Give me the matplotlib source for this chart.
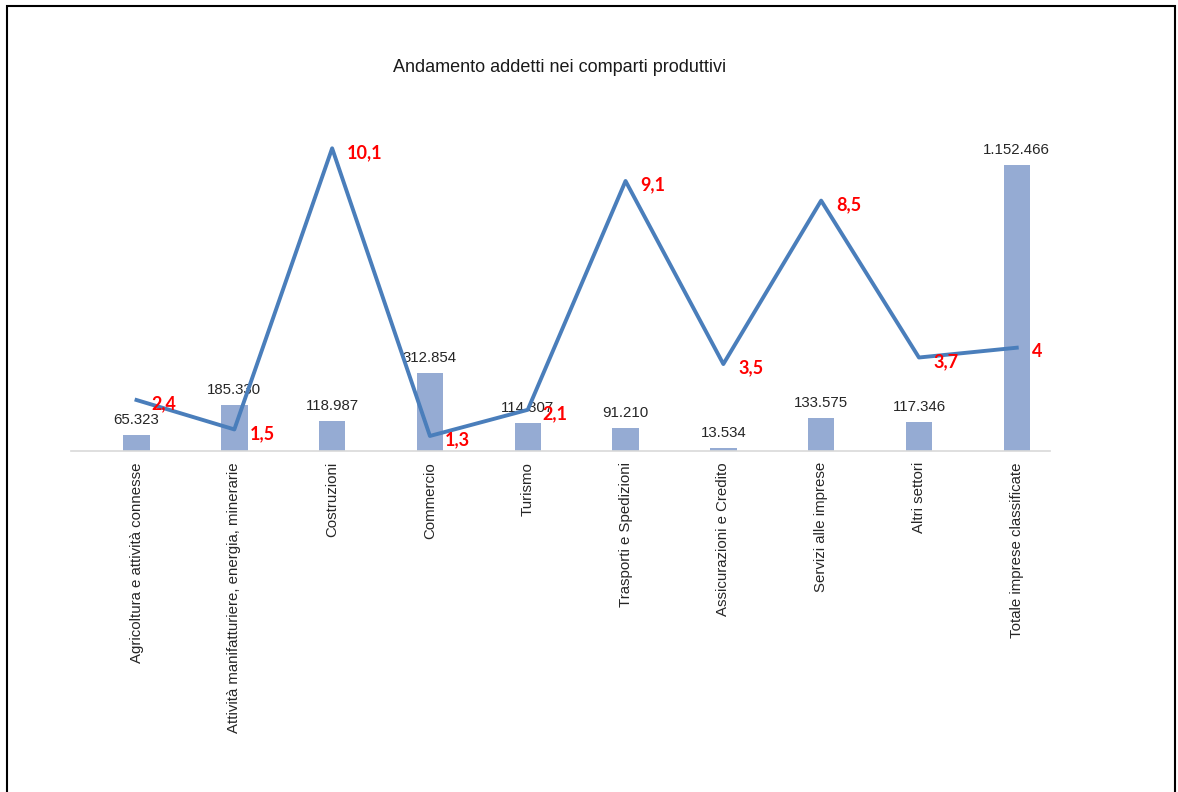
import matplotlib.pyplot as plt
from matplotlib.patches import Rectangle

plt.rcParams['font.family'] = ['Liberation Sans', 'DejaVu Sans']

# dati
categorie = ["Agricoltura e attività connesse",
             "Attività manifatturiere, energia, minerarie",
             "Costruzioni", "Commercio", "Turismo",
             "Trasporti e Spedizioni", "Assicurazioni e Credito",
             "Servizi alle imprese", "Altri settori",
             "Totale imprese classificate"]
addetti = [65323, 185330, 118987, 312854, 114307, 91210, 13534, 133575, 117346, 1152466]
variazione = [2.4, 1.5, 10.1, 1.3, 2.1, 9.1, 3.5, 8.5, 3.7, 4.0]

W, H = 1178, 792
fig = plt.figure(figsize=(W / 100, H / 100), dpi=100)

# area del grafico in pixel
x0, x1 = 71, 1050
y_base, y_top = 451, 130
ax = fig.add_axes([x0 / W, 1 - y_base / H, (x1 - x0) / W, (y_base - y_top) / H])

pos = list(range(len(categorie)))
ax.bar(pos, addetti, width=0.27, color='#95abd3', zorder=2)
ax.set_xlim(-0.67, len(categorie) - 1 + 0.34)
ax.set_ylim(0, 1293600)

for i, v in enumerate(addetti):
    etichetta = f"{v:,}".replace(",", ".")
    ax.annotate(etichetta, (i, v), xytext=(0, 8), textcoords='offset pixels',
                ha='center', va='bottom', fontsize=10.8, color='#262626')

ax.set_xticks(pos)
ax.set_xticklabels(categorie, rotation=90, fontsize=10.8, color='#262626', va='top')
ax.tick_params(axis='x', length=0, pad=8)
ax.set_yticks([])
for s in ['top', 'right', 'left']:
    ax.spines[s].set_visible(False)
ax.spines['bottom'].set_color('#d9d9d9')
ax.spines['bottom'].set_linewidth(1.2)
ax.patch.set_alpha(0)

# asse secondario per la variazione
ax2 = ax.twinx()
ax2.plot(pos, variazione, color='#4a7ebb', linewidth=2.8, zorder=3)
ax2.set_ylim(0.84, 10.66)
ax2.set_yticks([])
for s in ['top', 'right', 'left', 'bottom']:
    ax2.spines[s].set_visible(False)

for i, v in enumerate(variazione):
    testo = f"{v:g}".replace(".", ",")
    ax2.annotate(testo, (i, v), xytext=(15, -4), textcoords='offset pixels',
                 ha='left', va='center', fontsize=13, fontweight='bold',
                 color='#ff0000', family=['Lato', 'DejaVu Sans'])

fig.text(560 / W, 1 - 68 / H, "Andamento addetti nei comparti produttivi",
         ha='center', va='center', fontsize=13, color='#1a1a1a')

# cornice
fig.patches.append(Rectangle((7 / W, -0.1), (1168 / W), 1.1 - 6 / H,
                             transform=fig.transFigure, fill=False,
                             edgecolor='black', linewidth=1.5))

fig.savefig('out.png', dpi=100)
